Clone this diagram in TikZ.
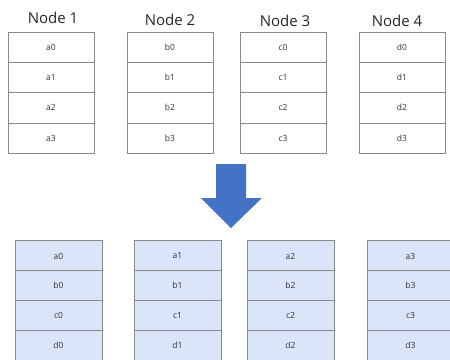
\documentclass[tikz,border=0pt]{standalone}
\usepackage{fontspec}
\setmainfont{Open Sans}
\definecolor{cellline}{HTML}{8A8A8A}
\definecolor{cellfill}{HTML}{DAE5FA}
\definecolor{arrowblue}{HTML}{4472C4}
\begin{document}
\begin{tikzpicture}[x=1pt,y=-1pt,
  cell/.style={draw=cellline,line width=0.9pt,minimum width=86pt,minimum height=30.3pt,inner sep=0pt,font=\fontsize{8.5}{10}\selectfont,text=black!80},
  topcell/.style={cell,fill=white},
  botcell/.style={cell,fill=cellfill,minimum width=87pt},
  title/.style={font=\fontsize{15}{17}\selectfont,text=black!85,inner sep=0pt}]
\useasboundingbox (0,0) rectangle (450,359);
\clip (0,0) rectangle (450,359);
% titles
\node[title] (t1) at (53,18) {Node 1};
\node[title] (t2) at (170,20) {Node 2};
\node[title] (t3) at (285,21) {Node 3};
\node[title] (t4) at (397,21) {Node 4};
% top tables
\foreach \l/\cx in {a/51,b/170,c/283,d/402}{
  \foreach \i in {0,1,2,3}{
    \node[topcell] (\l\i) at (\cx,{47.2+30.3*\i}) {\l\i};
  }
}
% arrow
\fill[arrowblue] (216,164) -- (246,164) -- (246,198) -- (262,198) -- (231,228) -- (201,198) -- (216,198) -- cycle;
% bottom tables
\foreach \k/\cx in {0/58.5,1/177.5,2/290.5,3/410.5}{
  \foreach \l [count=\j from 0] in {a,b,c,d}{
    \node[botcell] (r\k\l) at (\cx,{256+29.7*\j}) {\l\k};
  }
}
\end{tikzpicture}
\end{document}
